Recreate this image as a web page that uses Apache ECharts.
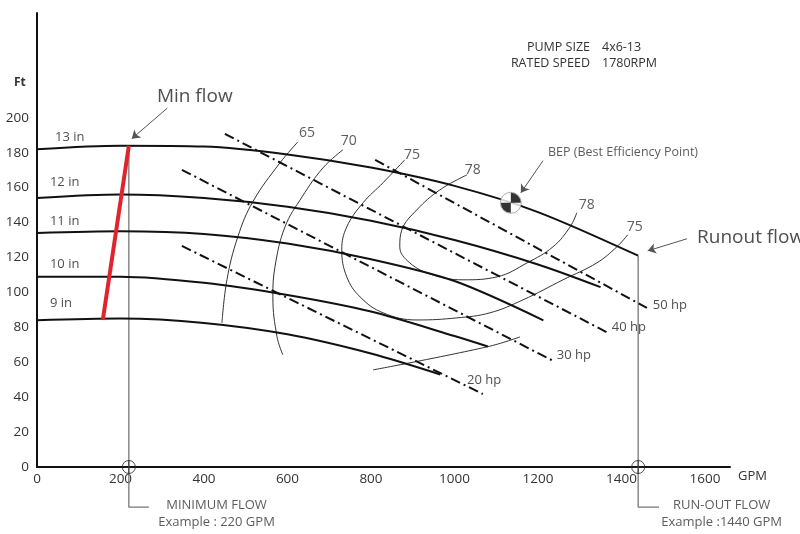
<!DOCTYPE html>
<html>
<head>
<meta charset="utf-8">
<script src="https://cdn.jsdelivr.net/npm/echarts@6/dist/echarts.min.js"></script>
<style>
  html, body { margin: 0; padding: 0; background: #fff; }
  #chart { width: 800px; height: 534px; }
</style>
</head>
<body>
<div id="chart"></div>
<script>
// ---- Pump performance data: flow in GPM, head in Ft ----
const flowTickMax = 1600;
const headTickMax = 200;

// Head curves per impeller diameter
const impellerNames = ['13 in', '12 in', '11 in', '10 in', '9 in'];
const head13 = [[0, 182], [200, 184], [400, 183.5], [600, 179], [800, 171.5], [1000, 161], [1200, 146], [1440, 121]];
const head12 = [[0, 154], [200, 156], [400, 154], [600, 149], [800, 141], [1000, 130], [1200, 116], [1350, 103]];
const head11 = [[0, 134], [200, 135], [400, 133.5], [600, 128], [800, 119], [1000, 106.5], [1213, 84]];
const head10 = [[0, 109], [200, 109], [400, 105.5], [600, 98.5], [800, 89], [1000, 75], [1080, 69]];
const head9 = [[0, 84], [200, 85], [400, 82.5], [600, 76], [800, 65], [966, 53]];
const impellerLabelAt = [[43, 189], [31, 163], [31, 140.5], [31, 116], [31, 94]];

// Efficiency contours (%)
const eff65 = [[625, 186.2], [582, 174.2], [517, 151.9], [481, 131.8], [455, 107.2], [443, 82.5]];
const eff70 = [[733, 181.7], [685, 171.3], [635, 154.7], [594, 137.5], [570, 114.6], [565, 97.4], [575, 74.5], [589, 64.2]];
const eff70Right = [[805, 55.6], [1078, 68.8], [1157, 74.5]];
const eff75 = [[881, 175.9], [829, 162.8], [781, 151.3], [742, 137.5], [730, 124.4], [742, 108.9], [774, 97.4], [829, 88.3],
               [910, 84.2], [1006, 85.4], [1085, 88.3], [1164, 95.7], [1260, 107.2], [1341, 116.9], [1389, 126.1], [1415, 133.0]];
const eff78 = [[1030, 167.3], [965, 158.7], [910, 147.3], [874, 135.8], [869, 126.1], [893, 116.9], [948, 110.0], [1020, 107.2],
               [1102, 108.9], [1174, 116.9], [1236, 126.1], [1277, 137.5], [1293, 145.6]];
const effLabels = ['65', '70', '75', '78', '78', '75'];
const effLabelAt = [[647, 191.4], [747, 186.8], [898, 178.8], [1044, 170.2], [1317, 150.1], [1432, 137.5]];

// Brake horsepower lines
const hpNames = ['50 hp', '40 hp', '30 hp', '20 hp'];
const hp50 = [[810, 175.9], [1461, 91.1]];
const hp40 = [[450, 190.8], [1368, 76.8]];
const hp30 = [[347, 170.2], [1241, 60.2]];
const hp20 = [[347, 126.6], [1068, 41.8]];
const hpLabelAt = [[1475, 92.8], [1377, 80.2], [1245, 64.2], [1030, 49.9]];

// Operating limits
const minFlowGpm = 220;
const runOutGpm = 1440;
const minFlowLine = [[158, 84.8], [minFlowGpm, 184]];      // red min-flow line across the impeller range
const bepPoint = [1135, 151.3];
const leaderFoot = -23;                                    // below the flow axis, where the notes start

const minFlowNote = ['MINIMUM FLOW', 'Example : ' + minFlowGpm + ' GPM'];
const runOutNote = ['RUN-OUT FLOW', 'Example :' + runOutGpm + ' GPM'];

const FONT = '"Open Sans", "Noto Sans", sans-serif';
const BLACK = '#111';

function curve(data, width, color, smooth) {
  return {
    type: 'line', data: data, symbol: 'none', smooth: smooth, clip: false,
    lineStyle: { color: color, width: width }, silent: true, z: 3
  };
}
function hpLine(data) {
  return {
    type: 'line', data: data, symbol: 'none', clip: false, silent: true, z: 3,
    lineStyle: { color: BLACK, width: 2, type: [10, 4, 2, 4] }
  };
}
function textPoints(points, texts, size, align, color, family) {
  return {
    type: 'scatter', symbolSize: 0, clip: false, silent: true, z: 6,
    data: points.map((p, i) => ({ value: p, name: texts[i] })),
    label: {
      show: true, position: [0, 0], align: align, verticalAlign: 'middle',
      formatter: (d) => d.name, fontSize: size, color: color, fontFamily: family || FONT
    }
  };
}

const headSeries = [head13, head12, head11, head10, head9].map(d => curve(d, 2, BLACK, 0.3));
const effSeries = [eff65, eff70, eff70Right, eff75, eff78].map(d => curve(d, 1, '#333', 0.4));
const hpSeries = [hp50, hp40, hp30, hp20].map(hpLine);

const crossCircle = 'path://M10,0A10,10,0,1,1,-10,0A10,10,0,1,1,10,0ZM-10,0L10,0M0,-10L0,10';
const bepWedges = 'path://M0,0L0,-10A10,10,0,0,1,10,0ZM0,0L0,10A10,10,0,0,1,-10,0Z';

const option = {
  animation: false,
  backgroundColor: '#fff',
  grid: { left: 37, right: 70, top: 13, bottom: 67 },
  xAxis: {
    type: 'value', min: 0, max: 1660, interval: 200,
    axisLine: { show: true, lineStyle: { color: BLACK, width: 2 } },
    axisTick: { show: false }, splitLine: { show: false },
    axisLabel: {
      margin: 5, fontSize: 13.5, color: '#333', fontFamily: FONT,
      formatter: v => (v <= flowTickMax ? String(v) : '')
    }
  },
  yAxis: {
    type: 'value', min: 0, max: 260, interval: 20,
    axisLine: { show: true, lineStyle: { color: BLACK, width: 2 } },
    axisTick: { show: false }, splitLine: { show: false },
    axisLabel: {
      margin: 8, fontSize: 13.5, color: '#333', fontFamily: FONT,
      formatter: v => (v <= headTickMax ? String(v) : '')
    }
  },
  graphic: [
    { type: 'text', left: 14, top: 77, style: { text: 'Ft', fontSize: 12, fontWeight: 'bold', fill: '#333', fontFamily: FONT } },
    { type: 'text', left: 738, top: 470, style: { text: 'GPM', fontSize: 13, fill: '#333', fontFamily: FONT } },
    { type: 'text', x: 590, y: 47, style: { text: 'PUMP SIZE', fontSize: 12.5, fill: '#333', fontFamily: FONT, align: 'right', verticalAlign: 'middle' } },
    { type: 'text', x: 602, y: 47, style: { text: '4x6-13', fontSize: 12.5, fill: '#333', fontFamily: FONT, align: 'left', verticalAlign: 'middle' } },
    { type: 'text', x: 590, y: 63, style: { text: 'RATED SPEED', fontSize: 12.5, fill: '#333', fontFamily: FONT, align: 'right', verticalAlign: 'middle' } },
    { type: 'text', x: 602, y: 63, style: { text: '1780RPM', fontSize: 12.5, fill: '#333', fontFamily: FONT, align: 'left', verticalAlign: 'middle' } }
  ],
  series: [
    // leader lines for minimum and run-out flow
    {
      type: 'line', symbol: 'none', clip: false, silent: true, z: 2,
      data: [[minFlowGpm, 184], [minFlowGpm, leaderFoot], [minFlowGpm + 48, leaderFoot]],
      lineStyle: { color: '#777', width: 1.3 }
    },
    {
      type: 'line', symbol: 'none', clip: false, silent: true, z: 2,
      data: [[runOutGpm, 121], [runOutGpm, leaderFoot], [runOutGpm + 50, leaderFoot]],
      lineStyle: { color: '#777', width: 1.3 }
    },
    ...effSeries,
    ...headSeries,
    ...hpSeries,
    // minimum flow line, with annotation arrows
    {
      type: 'line', data: minFlowLine, symbol: 'none', clip: false, silent: true, z: 4,
      lineStyle: { color: '#e0242b', width: 4 },
      markLine: {
        silent: true, symbol: ['none', 'arrow'], symbolSize: 8, animation: false,
        label: { show: false },
        lineStyle: { color: '#555', width: 1, type: 'solid' },
        data: [
          [{ coord: [312, 205.5] }, { coord: [minFlowGpm + 7, 188] }],
          [{ coord: [1557, 130.7] }, { coord: [1463, 123.8] }],
          [{ coord: [1212, 175.4] }, { coord: [1159, 157] }]
        ]
      }
    },
    // crosshair circles on the flow axis
    {
      type: 'scatter', clip: false, silent: true, z: 7,
      symbol: crossCircle, symbolSize: 13,
      data: [[minFlowGpm, 0], [runOutGpm, 0]],
      itemStyle: { color: 'rgba(0,0,0,0)', borderColor: '#222', borderWidth: 1 }
    },
    // best efficiency point marker
    {
      type: 'scatter', clip: false, silent: true, z: 7,
      symbol: 'circle', symbolSize: 21, data: [bepPoint],
      itemStyle: { color: '#fff', borderColor: '#999', borderWidth: 1 }
    },
    {
      type: 'scatter', clip: false, silent: true, z: 8,
      symbol: bepWedges, symbolSize: 20, data: [bepPoint],
      itemStyle: { color: '#000' }
    },
    // text labels
    textPoints(impellerLabelAt, impellerNames, 13, 'left', '#222'),
    textPoints(effLabelAt, effLabels, 14, 'center', '#333'),
    textPoints(hpLabelAt, hpNames, 13, 'left', '#222'),
    textPoints([[1224, 179.9]], ['BEP (Best Efficiency Point)'], 12.5, 'left', '#333'),
    textPoints([[378, 212]], ['Min flow'], 19, 'center', '#222'),
    textPoints([[1581, 131.2]], ['Runout flow'], 19, 'left', '#222'),
    textPoints([[430, -21.8], [430, -31.5]], minFlowNote, 13, 'center', '#333'),
    textPoints([[1640, -21.8], [1640, -31.5]], runOutNote, 13, 'center', '#333')
  ]
};

const chart = echarts.init(document.getElementById('chart'), null, { renderer: 'canvas' });
chart.setOption(option);
</script>
</body>
</html>
